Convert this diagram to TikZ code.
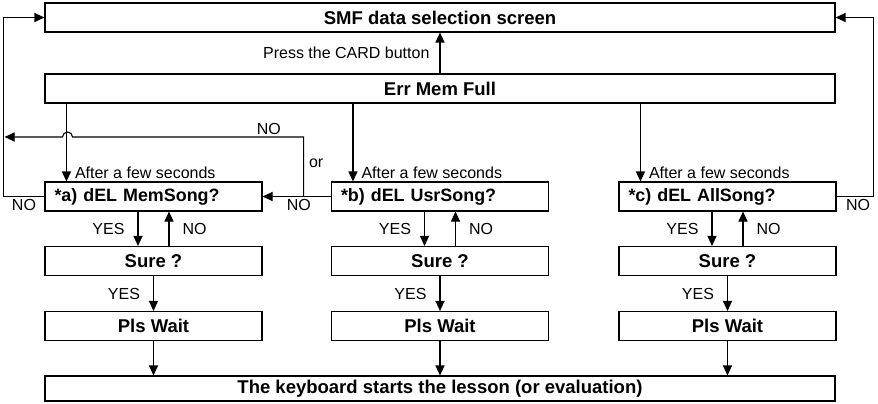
\documentclass[tikz,border=0pt]{standalone}
\usepackage{fontspec}
\setmainfont{Liberation Sans}
\usetikzlibrary{arrows.meta}

\tikzset{
  box/.style={draw, line width=1.1pt, minimum height=29pt, inner sep=0pt,
    font=\fontsize{18.5}{20}\selectfont\bfseries},
  wide/.style={box, minimum width=790pt},
  qbox/.style={box, minimum width=217pt, text width=198pt, align=left,
    font=\fontsize{17.9}{19}\selectfont\bfseries},
  sbox/.style={box, minimum width=217pt},
  lbl/.style={font=\fontsize{16}{18}\selectfont, inner sep=2pt},
  ln/.style={line width=1.1pt},
  arr/.style={ln, -{Triangle[length=10pt,width=9pt]}},
}

\begin{document}
\begin{tikzpicture}[x=1pt, y=-1pt]
  \useasboundingbox (0,0) rectangle (878,404);
  % boxes across the whole width
  \node[wide] (smf) at (440,17.5) {SMF data selection screen};
  \node[wide] (err) at (440,88.5) {Err Mem Full};
  \node[wide, minimum height=25pt] (fin) at (440,388.5) {The keyboard starts the lesson (or evaluation)};
  \draw[arr] (err.north) -- (smf.south)
    node[lbl, midway, left=8pt] {Press the CARD button};
  % the three columns
  \foreach \c/\x/\t in {a/153.5/MemSong, b/440/UsrSong, c/727.5/AllSong} {
    \node[qbox] (q\c) at (\x,196.5) {*\c) dEL \t?};
    \node[sbox] (s\c) at (\x,261) {Sure ?};
    \node[sbox] (p\c) at (\x,326) {Pls Wait};
    \coordinate (t\c) at ([xshift=22pt]q\c.north west);
    \draw[arr] (t\c |- err.south) -- (t\c)
      node[lbl, above right, xshift=6pt] {After a few seconds};
    \draw[arr] ([xshift=-15.5pt]q\c.south) -- ([xshift=-15.5pt]s\c.north)
      node[lbl, midway, left=11pt] {YES};
    \draw[arr] ([xshift=15.5pt]s\c.north) -- ([xshift=15.5pt]q\c.south)
      node[lbl, midway, right=11pt] {NO};
    \draw[arr] (s\c.south) -- (p\c.north)
      node[lbl, midway, left=11pt] {YES};
    \draw[arr] (p\c.south) -- (p\c.south |- fin.north);
  }
  % NO loops back to the selection screen
  \draw[arr] (qa.west) -- ++(-41,0) node[lbl, midway, below] {NO} |- (smf.west);
  \draw[arr] (qc.east) -- ++(37,0) node[lbl, midway, below, xshift=3pt] {NO} |- (smf.east);
  \coordinate (jn) at ([xshift=41pt]qa.east);
  \draw[arr] (qb.west) -- (qa.east) node[lbl, pos=0.47, below] {NO};
  \draw[arr] (jn) -- ++(0,-59.5) node[lbl, pos=0.56, right=3pt] {or}
    -- ++(-231,0) node[lbl, pos=0.15, above] {NO}
    arc[start angle=0, end angle=-180, radius=5] -- ++(-58,0);
\end{tikzpicture}
\end{document}
